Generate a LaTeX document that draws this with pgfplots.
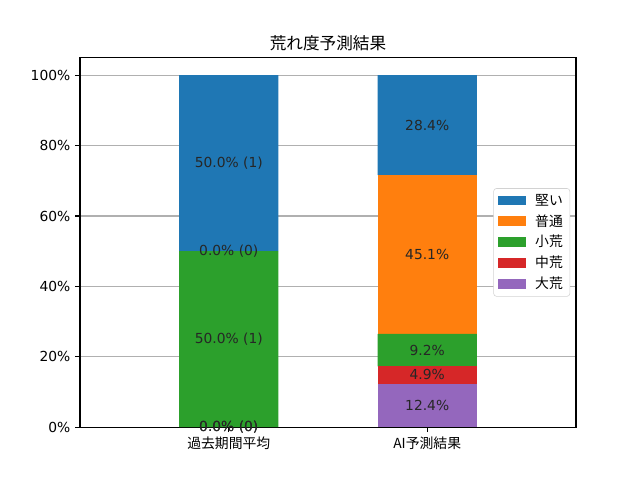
\documentclass[border=0pt]{standalone}
\usepackage{pgfplots}
\pgfplotsset{compat=1.18}
\usepackage{fontspec}
\setmainfont{DejaVu Sans}
\newfontfamily\cjk{Noto Sans CJK JP}
\definecolor{c1}{HTML}{1F77B4}
\definecolor{c2}{HTML}{FF7F0E}
\definecolor{c3}{HTML}{2CA02C}
\definecolor{c4}{HTML}{D62728}
\definecolor{c5}{HTML}{9467BD}
\definecolor{gridc}{HTML}{B0B0B0}
\begin{document}
\begin{tikzpicture}
\useasboundingbox (0,0) rectangle (6.4in,4.8in);
\begin{axis}[
  at={(0.8in,0.528in)}, anchor=south west,
  scale only axis, width=4.96in, height=3.696in,
  ybar stacked, bar width=0.5,
  xmin=-0.75, xmax=1.75, ymin=0, ymax=105,
  xtick={0,1}, xticklabels={{\cjk 過去期間平均},{\cjk AI予測結果}},
  ytick={0,20,40,60,80,100},
  yticklabel={\pgfmathprintnumber{\tick}\%},
  /pgf/number format/assume math mode=true,
  tick align=outside, xtick pos=bottom, ytick pos=left,
  major tick length=3.5pt,
  tick style={black, line width=0.8pt},
  axis line style={line width=0.8pt},
  ymajorgrids, grid style={gridc, line width=0.8pt},
  axis on top=false,
  ticklabel style={font=\fontsize{10}{12}\selectfont},
  title={\cjk 荒れ度予測結果},
  title style={font=\fontsize{12}{14}\selectfont, yshift=-5pt},
  legend style={at={(0.988,0.5)}, anchor=east, draw=gray!35, rounded corners=2pt,
    font=\fontsize{10}{12}\selectfont, cells={anchor=west}, row sep=1.2pt,
    inner xsep=3pt, inner ysep=2pt,
    /tikz/every odd column/.append style={column sep=5pt}},
  legend image code/.code={\fill[#1, sharp corners] (0pt,-3.5pt) rectangle (20pt,3.5pt);},
  reverse legend,
]
\addplot[fill=c5, draw=none] coordinates {(0,0) (1,12.4)};
\addplot[fill=c4, draw=none] coordinates {(0,0) (1,4.9)};
\addplot[fill=c3, draw=none] coordinates {(0,50) (1,9.2)};
\addplot[fill=c2, draw=none] coordinates {(0,0) (1,45.1)};
\addplot[fill=c1, draw=none] coordinates {(0,50) (1,28.4)};
\legend{{\cjk 大荒},{\cjk 中荒},{\cjk 小荒},{\cjk 普通},{\cjk 堅い}}
\end{axis}
\begin{axis}[
  at={(0.8in,0.528in)}, anchor=south west,
  scale only axis, width=4.96in, height=3.696in,
  xmin=-0.75, xmax=1.75, ymin=0, ymax=105,
  hide axis, clip=false,
]
\addplot[draw=none, mark=none, nodes near coords, point meta=explicit symbolic,
  nodes near coords align=center,
  every node near coord/.append style={font=\fontsize{10}{12}\selectfont, text=black!85, inner sep=0pt}]
  coordinates {
  (0,0) [0.0\% (0)]
  (0,0) [0.0\% (0)]
  (0,25) [50.0\% (1)]
  (0,50) [0.0\% (0)]
  (0,75) [50.0\% (1)]
  (1,6.2) [12.4\%]
  (1,14.85) [4.9\%]
  (1,21.9) [9.2\%]
  (1,49.05) [45.1\%]
  (1,85.8) [28.4\%]
  };
\end{axis}
\end{tikzpicture}
\end{document}
